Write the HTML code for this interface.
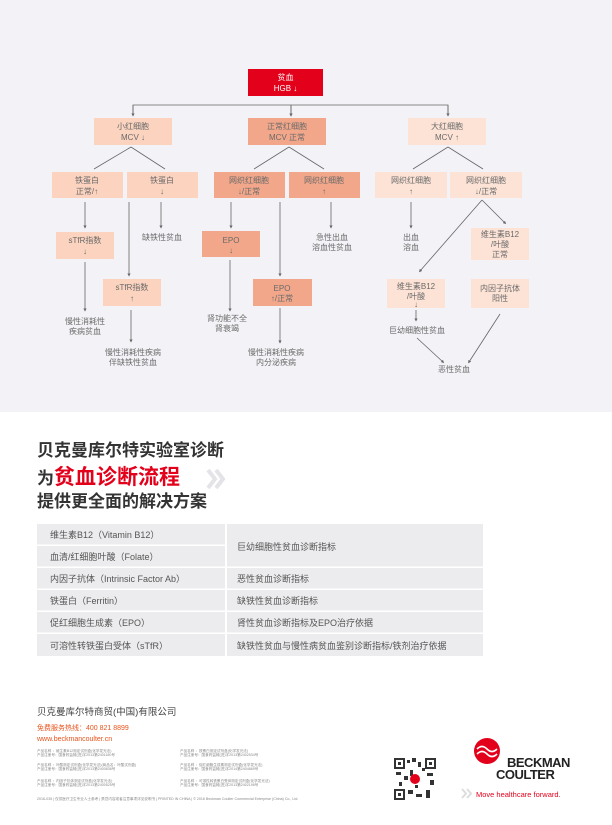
<!DOCTYPE html>
<html><head><meta charset="utf-8"><style>
html,body{margin:0;padding:0;background:#fff;}
svg{display:block;font-family:"Liberation Sans","Noto Sans CJK SC",sans-serif;}
.t{font-size:8px;fill:#6a6a6a;text-anchor:middle;}
.l{stroke:#666;stroke-width:0.8;fill:none;}
.tb{font-size:9px;fill:#555;}
.s{font-size:3.6px;fill:#888;}
</style></head><body>
<svg width="612" height="825" viewBox="0 0 612 825" xmlns="http://www.w3.org/2000/svg">
<defs><marker id="a" markerWidth="4" markerHeight="4" refX="2" refY="2" orient="auto"><path d="M0,0L4,2L0,4z" fill="#666"/></marker></defs>
<rect x="0" y="0" width="612" height="412" fill="#f3f3f7"/>
<!-- top -->
<rect x="248" y="69" width="75" height="27" fill="#e3001b"/>
<text x="285.5" y="80" class="t" style="fill:#fff">贫血</text>
<text x="285.5" y="91" class="t" style="fill:#fff">HGB ↓</text>
<path class="l" d="M133,115V105H448V115M291,105V115" marker-end="url(#a)"/>
<path class="l" d="M133,105V115" marker-end="url(#a)"/><path class="l" d="M291,105V115" marker-end="url(#a)"/><path class="l" d="M448,105V115" marker-end="url(#a)"/>
<rect x="94" y="118" width="78" height="27" fill="#fbd3bf"/>
<text x="133" y="129" class="t">小红细胞</text><text x="133" y="140" class="t">MCV ↓</text>
<rect x="248" y="118" width="78" height="27" fill="#f2a78a"/>
<text x="287" y="129" class="t">正常红细胞</text><text x="287" y="140" class="t">MCV 正常</text>
<rect x="408" y="118" width="78" height="27" fill="#fde3d6"/>
<text x="447" y="129" class="t">大红细胞</text><text x="447" y="140" class="t">MCV ↑</text>
<path class="l" d="M131,147L94,169M131,147L165,169M289,147L254,169M289,147L324,169M448,147L413,169M448,147L483,169"/>
<!-- level2 -->
<rect x="52" y="172" width="71" height="26" fill="#fbd3bf"/><text x="87" y="183" class="t">铁蛋白</text><text x="87" y="194" class="t">正常/↑</text>
<rect x="127" y="172" width="71" height="26" fill="#fbd3bf"/><text x="162" y="183" class="t">铁蛋白</text><text x="162" y="194" class="t">↓</text>
<rect x="214" y="172" width="71" height="26" fill="#f2a78a"/><text x="249" y="183" class="t">网织红细胞</text><text x="249" y="194" class="t">↓/正常</text>
<rect x="289" y="172" width="71" height="26" fill="#f2a78a"/><text x="324" y="183" class="t">网织红细胞</text><text x="324" y="194" class="t">↑</text>
<rect x="375" y="172" width="72" height="26" fill="#fde3d6"/><text x="411" y="183" class="t">网织红细胞</text><text x="411" y="194" class="t">↑</text>
<rect x="450" y="172" width="72" height="26" fill="#fde3d6"/><text x="486" y="183" class="t">网织红细胞</text><text x="486" y="194" class="t">↓/正常</text>
<!-- branch A -->
<path class="l" d="M85,202V227" marker-end="url(#a)"/>
<rect x="56" y="232" width="58" height="27" fill="#fbd3bf"/><text x="85" y="243" class="t">sTfR指数</text><text x="85" y="254" class="t">↓</text>
<path class="l" d="M85,262V310" marker-end="url(#a)"/>
<text x="85" y="324" class="t">慢性消耗性</text><text x="85" y="334" class="t">疾病贫血</text>
<!-- B -->
<path class="l" d="M129,202V275" marker-end="url(#a)"/>
<path class="l" d="M161,202V227" marker-end="url(#a)"/>
<text x="162" y="240" class="t">缺铁性贫血</text>
<rect x="103" y="279" width="58" height="27" fill="#fbd3bf"/><text x="132" y="290" class="t">sTfR指数</text><text x="132" y="301" class="t">↑</text>
<path class="l" d="M131,310V341" marker-end="url(#a)"/>
<text x="133" y="355" class="t">慢性消耗性疾病</text><text x="133" y="365" class="t">伴缺铁性贫血</text>
<!-- C -->
<path class="l" d="M231,202V227" marker-end="url(#a)"/>
<rect x="202" y="231" width="58" height="26" fill="#f2a78a"/><text x="231" y="243" class="t">EPO</text><text x="231" y="253" class="t">↓</text>
<path class="l" d="M230,260V310" marker-end="url(#a)"/>
<text x="227" y="321" class="t">肾功能不全</text><text x="227" y="331" class="t">肾衰竭</text>
<path class="l" d="M280,202V275" marker-end="url(#a)"/>
<rect x="253" y="279" width="59" height="27" fill="#f2a78a"/><text x="282" y="291" class="t">EPO</text><text x="282" y="301" class="t">↑/正常</text>
<path class="l" d="M280,308V342" marker-end="url(#a)"/>
<text x="276" y="355" class="t">慢性消耗性疾病</text><text x="276" y="365" class="t">内分泌疾病</text>
<!-- D -->
<path class="l" d="M331,202V227" marker-end="url(#a)"/>
<text x="332" y="240" class="t">急性出血</text><text x="332" y="250" class="t">溶血性贫血</text>
<!-- E -->
<path class="l" d="M411,202V227" marker-end="url(#a)"/>
<text x="411" y="240" class="t">出血</text><text x="411" y="250" class="t">溶血</text>
<!-- F -->
<path class="l" d="M482,200L420,271" marker-end="url(#a)"/>
<path class="l" d="M482,200L505,223" marker-end="url(#a)"/>
<rect x="471" y="228" width="58" height="32" fill="#fde3d6"/><text x="500" y="237" class="t">维生素B12</text><text x="500" y="247" class="t">/叶酸</text><text x="500" y="257" class="t">正常</text>
<rect x="387" y="279" width="58" height="29" fill="#fde3d6"/><text x="416" y="289" class="t">维生素B12</text><text x="416" y="299" class="t">/叶酸</text><text x="416" y="307" class="t">↓</text>
<path class="l" d="M416,310V320" marker-end="url(#a)"/>
<text x="417" y="333" class="t">巨幼细胞性贫血</text>
<rect x="471" y="279" width="58" height="29" fill="#fde3d6"/><text x="500" y="291" class="t">内因子抗体</text><text x="500" y="301" class="t">阳性</text>
<path class="l" d="M417,338L443,362" marker-end="url(#a)"/>
<path class="l" d="M500,314L469,362" marker-end="url(#a)"/>
<text x="454" y="372" class="t">恶性贫血</text>
<!-- headline -->
<text x="37" y="456" style="font-size:17px;fill:#333;font-weight:bold">贝克曼库尔特实验室诊断</text>
<text x="37" y="484" style="font-size:17px;fill:#333;font-weight:bold">为<tspan style="font-size:21px;fill:#e3001b">贫血诊断流程</tspan></text>
<path d="M208,470l7,9l-7,9M216,470l7,9l-7,9" stroke="#e4e4e8" stroke-width="4" fill="none"/>
<text x="37" y="507" style="font-size:17px;fill:#333;font-weight:bold">提供更全面的解决方案</text>
<!-- table -->
<g fill="#ececee">
<rect x="37" y="524" width="188" height="20.5"/><rect x="227" y="524" width="256" height="42.5"/>
<rect x="37" y="546" width="188" height="20.5"/>
<rect x="37" y="568" width="188" height="20.5"/><rect x="227" y="568" width="256" height="20.5"/>
<rect x="37" y="590" width="188" height="20.5"/><rect x="227" y="590" width="256" height="20.5"/>
<rect x="37" y="612" width="188" height="20.5"/><rect x="227" y="612" width="256" height="20.5"/>
<rect x="37" y="634" width="188" height="22"/><rect x="227" y="634" width="256" height="22"/>
</g>
<text x="50" y="538" class="tb">维生素B12（Vitamin B12）</text>
<text x="50" y="560" class="tb">血清/红细胞叶酸（Folate）</text>
<text x="50" y="582" class="tb">内因子抗体（Intrinsic Factor Ab）</text>
<text x="50" y="604" class="tb">铁蛋白（Ferritin）</text>
<text x="50" y="626" class="tb">促红细胞生成素（EPO）</text>
<text x="50" y="649" class="tb">可溶性转铁蛋白受体（sTfR）</text>
<text x="237" y="550" class="tb">巨幼细胞性贫血诊断指标</text>
<text x="237" y="582" class="tb">恶性贫血诊断指标</text>
<text x="237" y="604" class="tb">缺铁性贫血诊断指标</text>
<text x="237" y="626" class="tb">肾性贫血诊断指标及EPO治疗依据</text>
<text x="237" y="649" class="tb">缺铁性贫血与慢性病贫血鉴别诊断指标/铁剂治疗依据</text>
<!-- footer -->
<text x="37" y="715" style="font-size:9.5px;fill:#444">贝克曼库尔特商贸(中国)有限公司</text>
<text x="37" y="730" style="font-size:7px;fill:#e8531d">免费服务热线：400 821 8899</text>
<text x="37" y="741" style="font-size:7px;fill:#e8531d">www.beckmancoulter.cn</text>
<text x="37" y="752" class="s">产品名称 ：维生素B12测定试剂盒(化学发光法)</text><text x="37" y="756" class="s">产品注册号：国食药监械(进)字2013第2401180号</text>
<text x="37" y="766" class="s">产品名称 ：叶酸测定试剂盒(化学发光法)(商品名：叶酸试剂盒)</text><text x="37" y="770" class="s">产品注册号：国食药监械(进)字2013第2400836号</text>
<text x="37" y="782" class="s">产品名称 ：内因子抗体测定试剂盒(化学发光法)</text><text x="37" y="786" class="s">产品注册号：国食药监械(进)字2013第2400525号</text>
<text x="180" y="752" class="s">产品名称 ：铁蛋白测定试剂盒(化学发光法)</text><text x="180" y="756" class="s">产品注册号：国食药监械(进)字2013第2402534号</text>
<text x="180" y="766" class="s">产品名称 ：促红细胞生成素测定试剂盒(化学发光法)</text><text x="180" y="770" class="s">产品注册号：国食药监械(进)字2014第2404869号</text>
<text x="180" y="782" class="s">产品名称 ：可溶性转铁蛋白受体测定试剂盒(化学发光法)</text><text x="180" y="786" class="s">产品注册号：国食药监械(进)字2013第2402196号</text>
<text x="37" y="800" class="s">2016-035  |  仅供医疗卫生专业人士参考  |  禁忌内容或者注意事项详见说明书  |  PRINTED IN CHINA  |  © 2016 Beckman Coulter Commercial Enterprise (China) Co., Ltd.</text>
<!-- QR -->
<rect x="394" y="758" width="42" height="42" fill="#fff"/>
<g fill="#333">
<rect x="394" y="758" width="11" height="11"/><rect x="425" y="758" width="11" height="11"/><rect x="394" y="789" width="11" height="11"/>
<rect x="407" y="760" width="3" height="3"/><rect x="412" y="758" width="4" height="4"/><rect x="418" y="762" width="3" height="5"/>
<rect x="396" y="772" width="5" height="3"/><rect x="404" y="776" width="4" height="4"/><rect x="410" y="770" width="3" height="6"/>
<rect x="427" y="773" width="6" height="3"/><rect x="430" y="780" width="4" height="5"/><rect x="408" y="790" width="5" height="4"/>
<rect x="416" y="794" width="6" height="3"/><rect x="426" y="790" width="4" height="8"/><rect x="399" y="782" width="3" height="4"/>
<rect x="415" y="785" width="3" height="3"/><rect x="422" y="768" width="3" height="3"/>
</g>
<rect x="396" y="760" width="7" height="7" fill="#fff"/><rect x="427" y="760" width="7" height="7" fill="#fff"/><rect x="396" y="791" width="7" height="7" fill="#fff"/>
<rect x="398" y="762" width="3" height="3" fill="#333"/><rect x="429" y="762" width="3" height="3" fill="#333"/><rect x="398" y="793" width="3" height="3" fill="#333"/>
<circle cx="415" cy="779" r="5" fill="#e3001b"/>
<!-- logo -->
<circle cx="487" cy="751" r="13" fill="#e3001b"/>
<path d="M477,749q5,-5 10,0t10,0M477,754q5,-5 10,0t10,0" stroke="#fff" stroke-width="1.6" fill="none"/>
<text x="507" y="767" style="font-size:13px;font-weight:bold;fill:#222;letter-spacing:-0.5px">BECKMAN</text>
<text x="496" y="779" style="font-size:13px;font-weight:bold;fill:#222;letter-spacing:-0.5px">COULTER</text>
<path d="M462,789l4,4.5l-4,4.5M467,789l4,4.5l-4,4.5" stroke="#ddd" stroke-width="2" fill="none"/>
<text x="476" y="797" style="font-size:7.5px;fill:#e3001b">Move healthcare forward.</text>
</svg>
</body></html>
